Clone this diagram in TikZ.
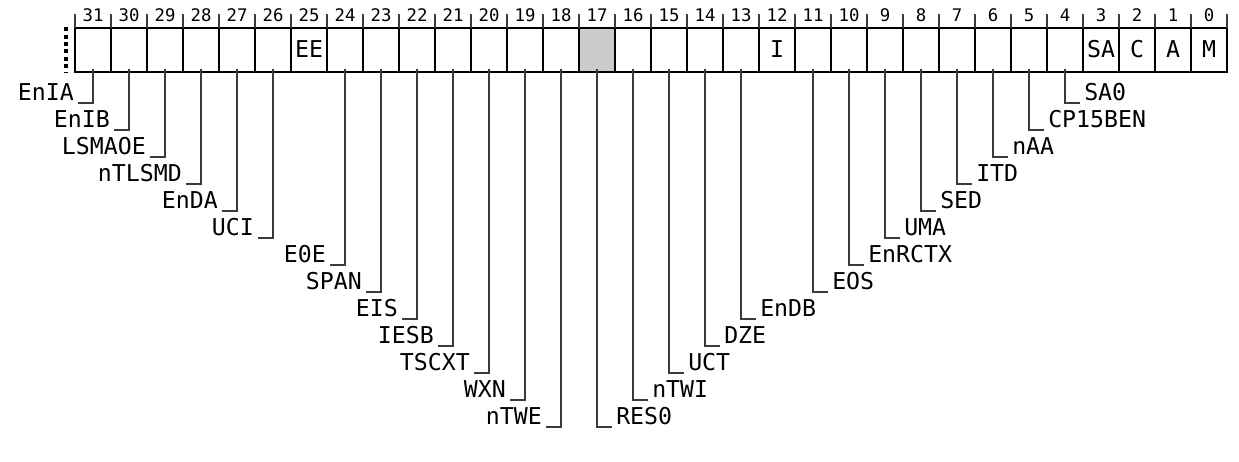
\documentclass[tikz,border=0pt]{standalone}
\usepackage{fontspec}
\setmonofont{DejaVu Sans Mono}
\usetikzlibrary{calc}

\definecolor{leadgray}{HTML}{3A3A3A}
\definecolor{resgray}{HTML}{CCCCCC}

\tikzset{
  bitcell/.style={draw=black, line width=1.4pt, minimum width=27pt, minimum height=33pt, inner sep=0pt},
  bitnum/.style={font=\ttfamily\fontsize{13}{15}\selectfont, anchor=base, inner sep=0pt},
  celltext/.style={font=\ttfamily\fontsize{17.4}{20}\selectfont, anchor=base, inner sep=0pt},
  fieldname/.style={font=\ttfamily\fontsize{17.4}{20}\selectfont, inner xsep=3pt, inner ysep=0pt},
  leader/.style={draw=leadgray, line width=1.5pt},
  tick/.style={draw=leadgray, line width=1.2pt}
}

\begin{document}
\begin{tikzpicture}[x=0.75pt,y=0.75pt,yscale=-1,xscale=1]
\useasboundingbox (0,0) rectangle (1239,461);

% cells
\foreach \i in {0,...,31}
  \node[bitcell] (b\i) at ({1209-36*\i},50) {};
\node[bitcell, fill=resgray] (b17) at ({1209-36*17},50) {};

% bit numbers and ticks
\foreach \i in {0,...,31}
  \node[bitnum] (n\i) at ({1209-36*\i},21) {\i};
\foreach \k in {0,...,32}
  \draw[tick] ({75+36*\k},14) -- ({75+36*\k},28);

% dotted left edge
\draw[line width=2.4pt, dash pattern=on 3pt off 2.6pt] ([xshift=-6pt]b31.north west) -- ([xshift=-6pt]b31.south west);

% names inside cells
\node[celltext] (tEE) at ($(b25.center)+(0,7)$) {EE};
\node[celltext] (tI) at ($(b12.center)+(0,7)$) {I};
\node[celltext] (tSA) at ($(b3.center)+(0,7)$) {SA};
\node[celltext] (tC) at ($(b2.center)+(0,7)$) {C};
\node[celltext] (tA) at ($(b1.center)+(0,7)$) {A};
\node[celltext] (tM) at ($(b0.center)+(0,7)$) {M};

% left fields
\foreach \b/\n/\r in {31/EnIA/0,30/EnIB/1,29/LSMAOE/2,28/nTLSMD/3,27/EnDA/4,26/UCI/5,
    24/E0E/6,23/SPAN/7,22/EIS/8,21/IESB/9,20/TSCXT/10,19/WXN/11,18/nTWE/12} {
  \coordinate (k\b) at ($(b\b.center)+(-15,{53.3+26.95*\r})$);
  \draw[leader] ([yshift=-3pt]b\b.south) |- (k\b);
  \node[fieldname, anchor=base east] (f\b) at ([yshift=-2pt]k\b) {\n};
}

% right fields
\foreach \b/\n/\r in {17/RES0/12,16/nTWI/11,15/UCT/10,14/DZE/9,13/EnDB/8,11/EOS/7,
    10/EnRCTX/6,9/UMA/5,8/SED/4,7/ITD/3,6/nAA/2,5/CP15BEN/1,4/SA0/0} {
  \coordinate (k\b) at ($(b\b.center)+(15,{53.3+26.95*\r})$);
  \draw[leader] ([yshift=-3pt]b\b.south) |- (k\b);
  \node[fieldname, anchor=base west] (f\b) at ([yshift=-2pt]k\b) {\n};
}

\end{tikzpicture}
\end{document}
